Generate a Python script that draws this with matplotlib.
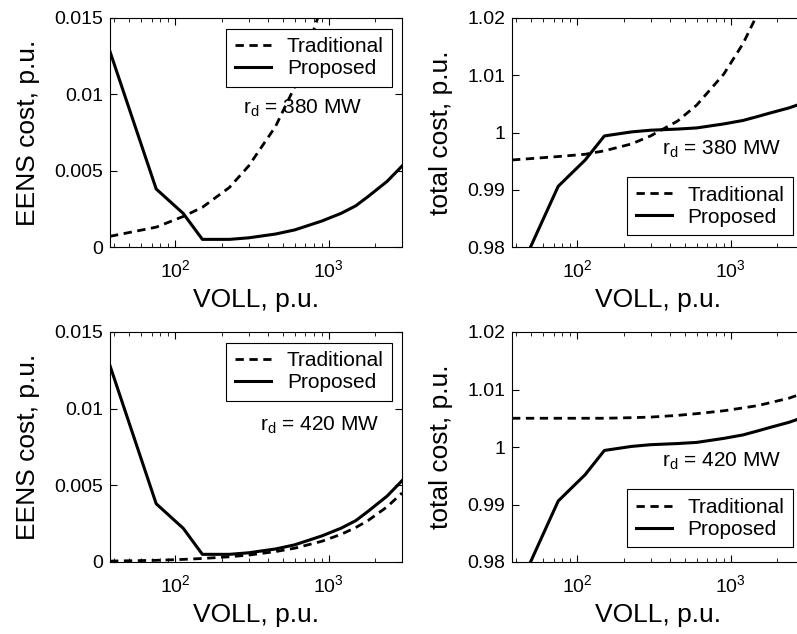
import matplotlib
matplotlib.use("Agg")
import matplotlib.pyplot as plt

plt.rcParams['font.family'] = ['Liberation Sans', 'DejaVu Sans']
plt.rcParams['mathtext.default'] = 'regular'

# VOLL values (p.u.)
voll = [37.5, 75, 112.5, 150, 225, 300, 450, 600, 900, 1200, 1500, 1800, 2400, 3000]

# EENS cost, rd = 380 MW
eens_trad_380 = [0.0007, 0.0013, 0.0020, 0.0026, 0.0039, 0.0053, 0.0079, 0.0105,
                 0.0158, 0.0210, 0.0263, 0.0315, 0.0420, 0.0525]
eens_prop = [0.0128, 0.0038, 0.0022, 0.0005, 0.0005, 0.0006, 0.00085, 0.00112,
             0.0017, 0.0022, 0.0027, 0.0033, 0.0043, 0.0053]
# EENS cost, rd = 420 MW
eens_trad_420 = [0.00006, 0.00011, 0.00017, 0.00023, 0.00034, 0.00045, 0.00068, 0.0009,
                 0.00135, 0.0018, 0.00225, 0.0027, 0.0036, 0.0045]

# total cost
tot_trad_380 = [0.9952, 0.9958, 0.9962, 0.9968, 0.9980, 0.9994, 1.0020, 1.0048,
                1.0102, 1.0155, 1.0208, 1.0260, 1.0365, 1.0470]
tot_prop = [0.9729, 0.9906, 0.9952, 0.9994, 1.0001, 1.0004, 1.0006, 1.0008,
            1.0015, 1.0021, 1.0028, 1.0034, 1.0043, 1.0052]
tot_trad_420 = [1.0050, 1.0050, 1.0050, 1.0050, 1.0051, 1.0052, 1.0055, 1.0058,
                1.0063, 1.0068, 1.0072, 1.0077, 1.0085, 1.0094]

eens_ticks = [0, 0.005, 0.01, 0.015]
eens_labels = ['0', '0.005', '0.01', '0.015']
tot_ticks = [0.98, 0.99, 1.0, 1.01, 1.02]
tot_labels = ['0.98', '0.99', '1', '1.01', '1.02']

W, H = 797, 634
fig = plt.figure(figsize=(W / 100, H / 100), dpi=100)

def px_axes(l, t, w, h):
    return fig.add_axes([l / W, 1 - (t + h) / H, w / W, h / H])

ax1 = px_axes(110, 18, 292, 229)
ax2 = px_axes(512, 18, 292, 229)
ax3 = px_axes(110, 332, 292, 230)
ax4 = px_axes(512, 332, 292, 230)

def style(ax, ticks, labels, ylabel, ylim):
    ax.set_xscale('log')
    ax.set_xlim(37.5, 3000)
    ax.set_ylim(*ylim)
    ax.set_yticks(ticks)
    ax.set_yticklabels(labels)
    ax.tick_params(which='both', direction='in', top=True, right=True, labelsize=14)
    ax.tick_params(axis='x', pad=9)
    ax.tick_params(axis='y', pad=5)
    ax.tick_params(which='major', length=5, width=0.8)
    ax.tick_params(which='minor', length=3, width=0.6)
    ax.set_xlabel('VOLL, p.u.', fontsize=19, labelpad=5)
    ax.set_ylabel(ylabel, fontsize=19, labelpad=10)
    for s in ax.spines.values():
        s.set_linewidth(0.8)

def lines(ax, trad, prop):
    ax.plot(voll, trad, 'k--', lw=2.0, dashes=(3.0, 2.0), label='Traditional')
    ax.plot(voll, prop, 'k-', lw=2.2, label='Proposed')

lines(ax1, eens_trad_380, eens_prop)
lines(ax2, tot_trad_380, tot_prop)
lines(ax3, eens_trad_420, eens_prop)
lines(ax4, tot_trad_420, tot_prop)

style(ax1, eens_ticks, eens_labels, 'EENS cost, p.u.', (0, 0.015))
style(ax3, eens_ticks, eens_labels, 'EENS cost, p.u.', (0, 0.015))
style(ax2, tot_ticks, tot_labels, 'total cost, p.u.', (0.98, 1.02))
style(ax4, tot_ticks, tot_labels, 'total cost, p.u.', (0.98, 1.02))

leg_kw = dict(fontsize=15, fancybox=False, edgecolor='k', framealpha=1,
              handlelength=1.75, handletextpad=0.75, borderaxespad=0,
              labelspacing=0.15, borderpad=0.4)
lg = ax1.legend(loc='upper right', bbox_to_anchor=(0.966, 0.952), **leg_kw)
lg.get_frame().set_linewidth(0.8)
lg = ax3.legend(loc='upper right', bbox_to_anchor=(0.966, 0.952), **leg_kw)
lg.get_frame().set_linewidth(0.8)
lg = ax2.legend(loc='lower right', bbox_to_anchor=(0.962, 0.052), **leg_kw)
lg.get_frame().set_linewidth(0.8)
lg = ax4.legend(loc='lower right', bbox_to_anchor=(0.962, 0.064), **leg_kw)
lg.get_frame().set_linewidth(0.8)

ax1.text(0.454, 0.581, '$r_d$ = 380 MW', transform=ax1.transAxes, fontsize=15, va='baseline')
ax2.text(0.512, 0.402, '$r_d$ = 380 MW', transform=ax2.transAxes, fontsize=15, va='baseline')
ax3.text(0.512, 0.573, '$r_d$ = 420 MW', transform=ax3.transAxes, fontsize=15, va='baseline')
ax4.text(0.512, 0.416, '$r_d$ = 420 MW', transform=ax4.transAxes, fontsize=15, va='baseline')

fig.savefig('out.png', dpi=100)
